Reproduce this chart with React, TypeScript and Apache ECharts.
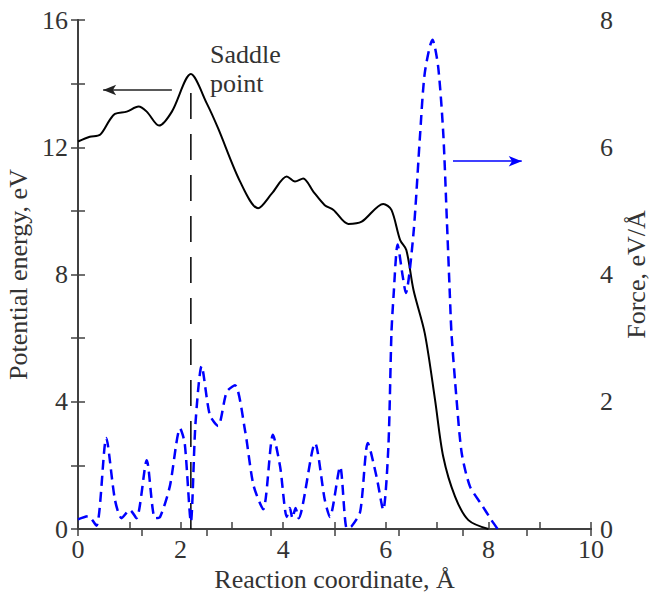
import React, { useEffect, useRef } from "react";
import * as echarts from "echarts";

const energyX = [0, 0.23, 0.43, 0.62, 0.72, 0.95, 1.18, 1.34, 1.58, 1.83, 2.2, 2.51, 2.73, 3.16, 3.51, 3.78, 4.07, 4.23, 4.39, 4.59, 4.81, 4.98, 5.27, 5.53, 5.95, 6.11, 6.28, 6.4, 6.54, 6.76, 6.96, 7.12, 7.35, 7.61, 8.0];
const energyY = [12.18, 12.33, 12.39, 12.86, 13.05, 13.12, 13.28, 13.12, 12.68, 13.12, 14.3, 13.38, 12.6, 10.92, 10.08, 10.55, 11.08, 10.92, 11.02, 10.6, 10.18, 10.03, 9.59, 9.66, 10.22, 10.03, 9.08, 8.77, 7.51, 6.15, 4.06, 2.27, 1.02, 0.28, 0];

const forceX = [0, 0.2, 0.36, 0.55, 0.72, 0.85, 1.01, 1.14, 1.34, 1.5, 1.6, 1.79, 1.99, 2.08, 2.2, 2.29, 2.41, 2.57, 2.73, 2.9, 3.06, 3.26, 3.42, 3.61, 3.8, 3.94, 4.07, 4.13, 4.18, 4.24, 4.3, 4.62, 4.81, 4.91, 5.11, 5.24, 5.33, 5.5, 5.65, 5.82, 5.95, 6.05, 6.11, 6.15, 6.23, 6.33, 6.39, 6.54, 6.67, 6.76, 6.91, 7.02, 7.12, 7.19, 7.25, 7.28, 7.38, 7.48, 7.64, 7.87, 8.06, 8.18];
const forceY = [0.15, 0.2, 0.05, 1.43, 0.46, 0.17, 0.3, 0.17, 1.08, 0.17, 0.19, 0.67, 1.58, 1.35, 0.11, 1.66, 2.56, 1.79, 1.62, 2.16, 2.26, 1.53, 0.69, 0.31, 1.48, 0.98, 0.19, 0.33, 0.17, 0.33, 0.17, 1.35, 0.46, 0.19, 0.98, 0.01, 0.04, 0.27, 1.35, 0.82, 0.3, 1.29, 3.08, 3.65, 4.47, 3.97, 3.71, 4.65, 6.22, 7.17, 7.69, 7.27, 6.22, 4.86, 3.65, 3.08, 2.03, 1.19, 0.67, 0.38, 0.14, 0];

const saddleX = 2.2;
const saddleTop = 13.9;
const leftArrow = { x0: 1.83, x1: 0.49, y: 13.8 };
const rightArrow = { x0: 7.31, x1: 8.65, y: 5.78 };

const FONT = "'Liberation Serif', 'Times New Roman', serif";
const AX = "#404040";
const TXT = "#333333";

export default function App() {
  const ref = useRef<HTMLDivElement>(null);
  useEffect(() => {
    if (!ref.current) return;
    const chart = echarts.init(ref.current, undefined, { renderer: "svg" });
    const axisCommon = {
      axisLine: { show: true, lineStyle: { color: AX, width: 2 } },
      axisTick: { show: true, inside: true, length: 7, lineStyle: { color: AX, width: 1.5 } },
      splitLine: { show: false },
    };
    chart.setOption({
      animation: false,
      backgroundColor: "#ffffff",
      grid: { left: 78, right: 59, top: 20, bottom: 64, containLabel: false, outerBoundsMode: "none" },
      xAxis: [
        {
          type: "value", position: "bottom", min: 0, max: 10, interval: 1,
          ...axisCommon,
          axisLabel: {
            color: TXT, fontFamily: FONT, fontSize: 26, margin: 7,
            formatter: (v: number) => (v % 2 === 0 ? String(v) : ""),
          },
          name: "Reaction coordinate, Å", nameLocation: "middle", nameGap: 30,
          nameTextStyle: { color: TXT, fontFamily: FONT, fontSize: 26 },
        },
        {
          type: "value", position: "top", min: 0, max: 8, interval: 1,
          ...axisCommon,
          axisLabel: { show: false },
        },
      ],
      yAxis: [
        {
          type: "value", position: "left", min: 0, max: 16, interval: 2,
          ...axisCommon,
          axisLabel: {
            color: TXT, fontFamily: FONT, fontSize: 26, margin: 10,
            formatter: (v: number) => (v % 4 === 0 ? String(v) : ""),
          },
          name: "Potential energy, eV", nameLocation: "middle", nameGap: 42, nameRotate: 90,
          nameTextStyle: { color: TXT, fontFamily: FONT, fontSize: 26 },
        },
        {
          type: "value", position: "right", min: 0, max: 8, interval: 1,
          ...axisCommon,
          axisLabel: {
            color: TXT, fontFamily: FONT, fontSize: 26, margin: 9,
            formatter: (v: number) => (v % 2 === 0 ? String(v) : ""),
          },
          name: "Force, eV/Å", nameLocation: "middle", nameGap: 25, nameRotate: 90,
          nameTextStyle: { color: TXT, fontFamily: FONT, fontSize: 26 },
        },
      ],
      series: [
        {
          type: "line", xAxisIndex: 0, yAxisIndex: 0, showSymbol: false, smooth: 0.3,
          data: energyX.map((x, i) => [x, energyY[i]]),
          lineStyle: { color: "#000000", width: 2 },
          markLine: {
            silent: true, symbol: ["none", "arrow"], symbolSize: [8, 13],
            label: { show: false },
            lineStyle: { color: "#222222", width: 1.5, type: "solid" },
            data: [[{ coord: [leftArrow.x0, leftArrow.y] }, { coord: [leftArrow.x1, leftArrow.y] }]],
          },
        },
        {
          type: "line", xAxisIndex: 0, yAxisIndex: 0, showSymbol: false,
          data: [[saddleX, 0], [saddleX, saddleTop]],
          lineStyle: { color: "#000000", width: 1.5, type: [26, 15] },
        },
        {
          type: "line", xAxisIndex: 0, yAxisIndex: 1, showSymbol: false, smooth: 0.25,
          data: forceX.map((x, i) => [x, forceY[i]]),
          lineStyle: { color: "#0000ff", width: 2.5, type: [10, 6] },
          markLine: {
            silent: true, symbol: ["none", "arrow"], symbolSize: [8, 13],
            label: { show: false },
            lineStyle: { color: "#0000ff", width: 1.5, type: "solid" },
            data: [[{ coord: [rightArrow.x0, rightArrow.y] }, { coord: [rightArrow.x1, rightArrow.y] }]],
          },
        },
      ],
      graphic: [
        {
          type: "text", left: 210, top: 40,
          style: { text: "Saddle\npoint", fill: TXT, font: `26px ${FONT}`, lineHeight: 29 },
        },
      ],
    });
    return () => chart.dispose();
  }, []);
  return <div ref={ref} style={{ position: "fixed", left: 0, top: 0, width: 650, height: 593 }} />;
}
